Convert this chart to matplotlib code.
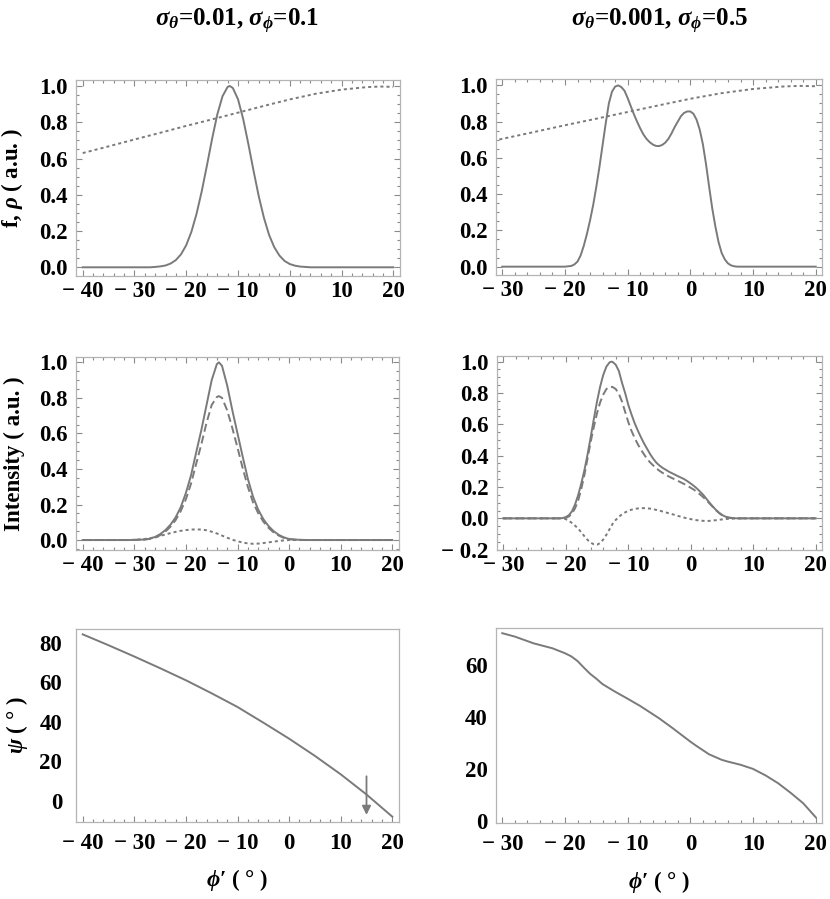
"""
Orientation plots: distribution f and weight rho, intensity components, and psi vs phi'
for two (sigma_theta, sigma_phi) settings.
"""

import matplotlib
matplotlib.use("Agg")
import matplotlib.pyplot as plt
from matplotlib.ticker import FuncFormatter, MultipleLocator

# ---- data ----
RHO_X = [-40, -35, -30, -25, -20, -15, -10, -5, 0, 5, 10, 15, 17.5, 20]
RHO_Y = [0.630, 0.667, 0.705, 0.742, 0.780, 0.816, 0.853, 0.890, 0.926, 0.957, 0.980, 0.994, 0.997, 0.995]

F_LEFT_X = [-40, -27, -26, -25, -24, -23, -22, -21, -20, -19, -18, -17, -16, -15, -14, -13,
            -12, -11.6, -11, -10, -9, -8, -7, -6, -5, -4, -3, -2, -1, 0, 1, 2, 3, 4, 20]
F_LEFT_Y = [0, 0, 0.002, 0.005, 0.010, 0.021, 0.040, 0.072, 0.122, 0.196, 0.296, 0.420, 0.562,
            0.709, 0.843, 0.943, 0.995, 1.0, 0.989, 0.927, 0.818, 0.680, 0.533, 0.393, 0.274,
            0.179, 0.111, 0.065, 0.035, 0.018, 0.009, 0.004, 0.002, 0, 0]

F_RIGHT_X = [-30, -20, -19, -18.5, -18, -17.5, -17, -16.5, -16, -15.5, -15, -14.5, -14, -13.5,
             -13, -12.5, -12, -11.5, -11, -10.5, -10, -9.5, -9, -8.5, -8, -7.5, -7, -6.5, -6,
             -5.5, -5, -4.5, -4, -3.5, -3, -2.5, -2, -1.5, -1, -0.5, 0, 0.5, 1, 1.5, 2, 2.5,
             3, 3.5, 4, 4.5, 5, 5.5, 6, 6.5, 7, 7.5, 20]
F_RIGHT_Y = [0, 0, 0.004, 0.012, 0.028, 0.062, 0.115, 0.18, 0.255, 0.34, 0.44, 0.55, 0.67, 0.79,
             0.90, 0.965, 0.993, 1.0, 0.99, 0.97, 0.93, 0.885, 0.84, 0.80, 0.763, 0.73, 0.705,
             0.687, 0.674, 0.666, 0.665, 0.671, 0.684, 0.705, 0.735, 0.77, 0.80, 0.83, 0.848,
             0.856, 0.856, 0.843, 0.81, 0.755, 0.675, 0.565, 0.44, 0.32, 0.22, 0.135, 0.075,
             0.04, 0.018, 0.007, 0.002, 0, 0]

I_LEFT_X = [-40, -31, -30, -29, -28, -27, -26, -25, -24, -23, -22, -21, -20, -19, -18, -17, -16,
            -15, -14, -13.6, -13, -12, -11, -10, -9, -8, -7, -6, -5, -4, -3, -2, -1, 0, 1, 2,
            3, 4, 20]
I_LEFT_TOTAL = [0, 0, 0.001, 0.002, 0.003, 0.008, 0.017, 0.033, 0.055, 0.086, 0.127, 0.185,
                0.265, 0.365, 0.494, 0.62, 0.76, 0.90, 0.99, 1.0, 0.98, 0.87, 0.73, 0.60, 0.47,
                0.345, 0.245, 0.172, 0.118, 0.079, 0.05, 0.029, 0.015, 0.006, 0.003, 0.0015,
                0.0005, 0, 0]
I_LEFT_DASH = [0, 0, 0.001, 0.002, 0.003, 0.006, 0.013, 0.027, 0.047, 0.075, 0.112, 0.163,
               0.23, 0.318, 0.43, 0.54, 0.66, 0.76, 0.805, 0.81, 0.80, 0.73, 0.63, 0.52, 0.405,
               0.30, 0.213, 0.152, 0.104, 0.069, 0.043, 0.025, 0.012, 0.005, 0.002, 0.001, 0, 0, 0]
I_LEFT_DOT = [0, 0, 0.001, 0.003, 0.006, 0.010, 0.016, 0.023, 0.031, 0.039, 0.046, 0.052,
              0.056, 0.059, 0.060, 0.059, 0.055, 0.047, 0.037, 0.033, 0.025, 0.013, 0.002,
              -0.007, -0.014, -0.019, -0.021, -0.020, -0.017, -0.013, -0.009, -0.005, -0.002,
              0, 0, 0, 0, 0, 0]

I_RIGHT_TOTAL_X = [-30, -21, -20.5, -20, -19.5, -19, -18.5, -18, -17.5, -17, -16.5, -16, -15.5,
                   -15, -14.5, -14, -13.5, -13, -12.7, -12.5, -12, -11.5, -11, -10.5, -10, -9.5,
                   -9, -8.5, -8, -7.5, -7, -6.5, -6, -5.5, -5, -4.5, -4, -3.5, -3, -2.5, -2,
                   -1.5, -1, -0.5, 0, 0.5, 1, 1.5, 2, 2.5, 3, 3.5, 4, 4.5, 5, 5.5, 6, 6.5, 7,
                   7.5, 20]
I_RIGHT_TOTAL = [0, 0, 0.002, 0.008, 0.02, 0.045, 0.09, 0.15, 0.225, 0.31, 0.41, 0.52, 0.635,
                 0.745, 0.84, 0.915, 0.968, 0.995, 1.0, 0.998, 0.98, 0.94, 0.865, 0.80, 0.725,
                 0.665, 0.61, 0.563, 0.52, 0.48, 0.445, 0.41, 0.38, 0.355, 0.337, 0.322, 0.31,
                 0.298, 0.288, 0.278, 0.268, 0.259, 0.249, 0.236, 0.222, 0.207, 0.19, 0.17,
                 0.15, 0.125, 0.1, 0.077, 0.055, 0.037, 0.022, 0.012, 0.006, 0.003, 0.001, 0, 0]

I_RIGHT_DASH_X = [-30, -20.5, -20, -19.5, -19, -18.5, -18, -17.5, -17, -16.5, -16, -15.5, -15,
                  -14.5, -14, -13.5, -13, -12.5, -12, -11.5, -11, -10.5, -10, -9.5, -9, -8.5,
                  -8, -7.5, -7, -6.5, -6, -5.5, -5, -4.5, -4, -3.5, -3, -2.5, -2, -1.5, -1,
                  -0.5, 0, 0.5, 1, 1.5, 2, 2.5, 3, 3.5, 4, 4.5, 5, 5.5, 6, 6.5, 7, 20]
I_RIGHT_DASH = [0, 0, 0.003, 0.012, 0.03, 0.065, 0.115, 0.19, 0.28, 0.385, 0.49, 0.585, 0.67,
                0.74, 0.79, 0.825, 0.84, 0.838, 0.825, 0.795, 0.745, 0.68, 0.615, 0.56, 0.515,
                0.475, 0.44, 0.41, 0.38, 0.357, 0.337, 0.319, 0.303, 0.29, 0.278, 0.267, 0.257,
                0.248, 0.238, 0.228, 0.218, 0.207, 0.195, 0.183, 0.168, 0.152, 0.135, 0.116,
                0.095, 0.074, 0.053, 0.035, 0.02, 0.01, 0.004, 0.001, 0, 0]

I_RIGHT_DOT_X = [-30, -20.5, -20, -19.5, -19, -18.5, -18, -17.5, -17, -16.5, -16, -15.5, -15,
                 -14.5, -14, -13.5, -13, -12.5, -12, -11.5, -11, -10.5, -10, -9.5, -9, -8.5,
                 -8, -7.5, -7, -6.5, -6, -5.5, -5, -4, -3, -2, -1, 0, 1, 2, 2.5, 3, 4, 5, 6,
                 7, 8, 20]
I_RIGHT_DOT = [0, 0, -0.005, -0.015, -0.03, -0.047, -0.066, -0.09, -0.115, -0.138, -0.155,
               -0.166, -0.168, -0.158, -0.135, -0.105, -0.07, -0.035, -0.01, 0.01, 0.026, 0.038,
               0.048, 0.055, 0.06, 0.063, 0.065, 0.065, 0.064, 0.062, 0.058, 0.054, 0.049,
               0.038, 0.027, 0.015, 0.004, -0.005, -0.012, -0.016, -0.017, -0.016, -0.012,
               -0.007, -0.003, -0.001, 0, 0]

PSI_LEFT_X = [-40, -35, -30, -25, -20, -15, -10, -5, 0, 5, 10, 15, 20]
PSI_LEFT = [84.2, 78.7, 73.0, 67.1, 61.0, 54.4, 47.5, 39.6, 31.5, 22.8, 13.5, 3.3, -7.9]

PSI_RIGHT_X = [-30, -28, -25, -22, -20, -19, -18, -17, -16, -15, -14, -12, -10, -8, -5, -3,
               0, 1, 3, 5, 6, 8, 10, 12, 14, 16, 18, 20]
PSI_RIGHT = [72.2, 70.9, 68.3, 66.4, 64.5, 63.3, 61.5, 59.0, 56.6, 54.7, 52.6, 49.7, 47.0,
             44.2, 39.5, 36.0, 30.5, 28.8, 25.6, 23.5, 22.8, 21.6, 20.0, 17.5, 14.5, 10.8, 6.8,
             1.4]

ARROW_X = 15
ARROW_FROM, ARROW_TO = 12.5, -7.0

TITLES = [r"$\sigma_\theta$=0.01, $\sigma_\phi$=0.1", r"$\sigma_\theta$=0.001, $\sigma_\phi$=0.5"]
XLABEL = "$\\phi$\u2032 ( ° )"

LINE = "#7a7a7a"
FRAME = "#b4b4b4"
DASHED = (0, (5.8, 2.9))
DOTTED = (0, (2.2, 2.2))
FS = 16.5

plt.rcParams.update({
    "font.family": ["Liberation Serif", "DejaVu Serif"],
    "font.weight": "bold",
    "axes.labelweight": "bold",
    "mathtext.fontset": "custom",
    "mathtext.rm": "Liberation Serif:bold",
    "mathtext.it": "Liberation Serif:italic:bold",
    "mathtext.bf": "Liberation Serif:bold",
    "lines.scale_dashes": False,
})

W, H = 830, 899


def px_axes(fig, x0, y0, x1, y1):
    return fig.add_axes([x0 / W, 1 - y1 / H, (x1 - x0) / W, (y1 - y0) / H])


def fmt_num(decimals):
    def f(v, _):
        s = f"{abs(v):.{decimals}f}"
        if round(v, decimals) < 0:
            return "\u2212 " + s
        return s
    return FuncFormatter(f)


def style(ax, xlim, ylim, ymajor, yminor, all_sides=True, ydec=1, xpad=3.5, ypad=6):
    ax.set_xlim(*xlim)
    ax.set_ylim(*ylim)
    for sp in ax.spines.values():
        sp.set_color(FRAME)
        sp.set_linewidth(0.9)
    ax.xaxis.set_major_locator(MultipleLocator(10))
    ax.xaxis.set_minor_locator(MultipleLocator(2))
    ax.xaxis.set_major_formatter(fmt_num(0))
    ax.yaxis.set_major_locator(MultipleLocator(ymajor))
    ax.yaxis.set_minor_locator(MultipleLocator(yminor))
    ax.yaxis.set_major_formatter(fmt_num(ydec))
    ax.tick_params(which="both", direction="in", color="#8a8a8a", width=0.8,
                   top=all_sides, right=all_sides, labelsize=FS)
    ax.tick_params(which="major", length=4.0)
    ax.tick_params(which="minor", length=2.3)
    ax.tick_params(axis="x", pad=xpad)
    ax.tick_params(axis="y", pad=ypad)
    if not all_sides:
        ax.tick_params(axis="y", which="both", length=0)


fig = plt.figure(figsize=(W / 100, H / 100), dpi=100)

# top row: f and rho
ax = px_axes(fig, 76, 80, 400, 276)
ax.plot(F_LEFT_X, F_LEFT_Y, color=LINE, lw=1.4)
ax.plot(RHO_X, RHO_Y, color=LINE, lw=1.4, linestyle=DOTTED)
style(ax, (-41.3, 21.3), (-0.048, 1.033), 0.2, 0.05)
ax.set_ylabel(r"f, $\rho$ ( a.u. )", fontsize=FS)
ax.yaxis.set_label_coords(-0.158, 0.5)

ax = px_axes(fig, 496, 79, 822, 275)
ax.plot(F_RIGHT_X, F_RIGHT_Y, color=LINE, lw=1.4)
ax.plot(RHO_X, RHO_Y, color=LINE, lw=1.4, linestyle=DOTTED)
style(ax, (-31.0, 21.0), (-0.046, 1.035), 0.2, 0.05)

# middle row: intensity
ax = px_axes(fig, 76, 357, 399, 550)
ax.plot(I_LEFT_X, I_LEFT_TOTAL, color=LINE, lw=1.4)
ax.plot(I_LEFT_X, I_LEFT_DASH, color=LINE, lw=1.4, linestyle=DASHED)
ax.plot(I_LEFT_X, I_LEFT_DOT, color=LINE, lw=1.4, linestyle=DOTTED)
style(ax, (-41.3, 21.3), (-0.056, 1.03), 0.2, 0.05)
ax.set_ylabel("Intensity ( a.u. )", fontsize=FS)
ax.yaxis.set_label_coords(-0.158, 0.5)

ax = px_axes(fig, 497, 356, 822, 550)
ax.plot(I_RIGHT_TOTAL_X, I_RIGHT_TOTAL, color=LINE, lw=1.4)
ax.plot(I_RIGHT_DASH_X, I_RIGHT_DASH, color=LINE, lw=1.4, linestyle=DASHED)
ax.plot(I_RIGHT_DOT_X, I_RIGHT_DOT, color=LINE, lw=1.4, linestyle=DOTTED)
style(ax, (-31.0, 21.0), (-0.202, 1.036), 0.2, 0.05)

# bottom row: psi
ax = px_axes(fig, 76, 629, 399, 822)
ax.plot(PSI_LEFT_X, PSI_LEFT, color=LINE, lw=1.4)
ax.annotate("", xy=(ARROW_X, ARROW_TO), xytext=(ARROW_X, ARROW_FROM),
            arrowprops=dict(arrowstyle="-|>", color=LINE, lw=1.3, mutation_scale=13,
                            shrinkA=0, shrinkB=0))
style(ax, (-41.3, 21.3), (-10.6, 86.9), 20, 20, all_sides=False, ydec=0, xpad=8, ypad=10)
ax.set_ylabel(r"$\psi$ ( ° )", fontsize=FS)
ax.yaxis.set_label_coords(-0.142, 0.5)
ax.set_xlabel(XLABEL, fontsize=FS)
ax.xaxis.set_label_coords(0.5, -0.235)

ax = px_axes(fig, 496, 628, 822, 823)
ax.plot(PSI_RIGHT_X, PSI_RIGHT, color=LINE, lw=1.4)
style(ax, (-31.0, 21.0), (-0.8, 74.2), 20, 20, all_sides=False, ydec=0, xpad=8, ypad=6)
ax.set_xlabel(XLABEL, fontsize=FS)
ax.xaxis.set_label_coords(0.5, -0.235)

fig.text(237 / W, 1 - 21 / H, TITLES[0], ha="center", va="center", fontsize=18)
fig.text(659 / W, 1 - 21 / H, TITLES[1], ha="center", va="center", fontsize=18)

fig.savefig("out.png", dpi=100)
